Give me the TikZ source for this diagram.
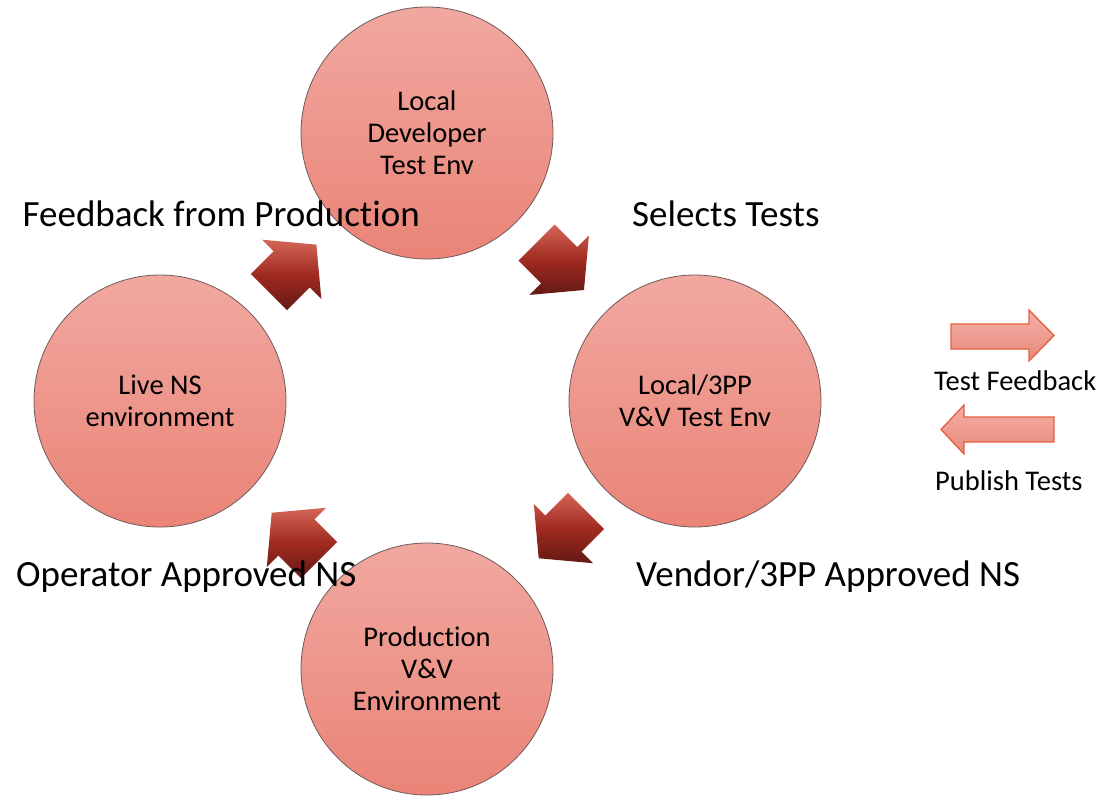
\documentclass[tikz,border=0pt]{standalone}
\usepackage{fontspec}
\setmainfont[Ligatures={NoCommon,NoDiscretionary,NoRare,NoHistoric,NoContextual}]{Carlito}
\usetikzlibrary{calc}
\definecolor{circtop}{RGB}{241,168,160}
\definecolor{circbot}{RGB}{234,132,119}
\definecolor{circline}{RGB}{110,90,90}
\definecolor{arrtop}{RGB}{212,102,86}
\definecolor{arrmid}{RGB}{160,42,32}
\definecolor{arrbot}{RGB}{100,25,20}
\definecolor{legtop}{RGB}{243,175,166}
\definecolor{legbot}{RGB}{233,137,124}
\definecolor{legline}{RGB}{226,96,62}
\tikzset{
  circ/.style={circle, minimum size=252pt, inner sep=0pt, draw=circline, line width=0.8pt,
    top color=circtop, bottom color=circbot, align=center,
    font=\fontsize{28.5}{32}\selectfont},
  blockarrow/.style={top color=arrtop, bottom color=arrbot, middle color=arrmid, draw=none},
  lbl/.style={inner sep=0pt, anchor=base west, font=\fontsize{37}{43}\selectfont},
  leglbl/.style={inner sep=0pt, anchor=base west, font=\fontsize{28.5}{32}\selectfont},
  legarrow/.style={top color=legtop, bottom color=legbot, draw=legline, line width=1.3pt, line join=miter}
}
\newcommand\blockarr[2]{%
  \path[blockarrow] ($(#1)+(#2+90:25.5)$) -- ($(#1)+(#2:32)+(#2+90:25.5)$)
    -- ($(#1)+(#2:32)+(#2+90:42)$) -- ($(#1)+(#2:67)$)
    -- ($(#1)+(#2:32)+(#2-90:42)$) -- ($(#1)+(#2:32)+(#2-90:25.5)$)
    -- ($(#1)+(#2-90:25.5)$) -- cycle;}
\begin{document}
\begin{tikzpicture}[x=1pt,y=-1pt]
\useasboundingbox[fill=white] (0,0) rectangle (1099,796);
% circles
\node[circ] (dev) at (427,133) {Local\\Developer\\Test Env};
\node[circ] (vv) at (695,401) {Local/3PP\\V\&V Test Env};
\node[circ] (prod) at (427,669) {Production\\V\&V\\Environment};
\node[circ] (live) at (160,401) {Live NS\\environment};
% block arrows (back centre, direction)
\coordinate (aNE) at (269,292);
\coordinate (aSE) at (536.6,242.6);
\coordinate (aSW) at (586.1,510.9);
\coordinate (aNW) at (319.1,560.1);
\blockarr{aNE}{315}
\blockarr{aSE}{45}
\blockarr{aSW}{135}
\blockarr{aNW}{225}
% labels
\node[lbl] (lfb) at (22.5,226.7) {Feedback from Production};
\node[lbl] (lsel) at (632,226.7) {Selects Tests};
\node[lbl] (lop) at (16,586.7) {Operator Approved NS};
\node[lbl] (lven) at (636,586.7) {Vendor/3PP Approved NS};
% legend
\path[legarrow] (951,324) -- (1029,324) -- (1029,310) -- (1054,335.5) -- (1029,361) -- (1029,349) -- (951,349) -- cycle;
\path[legarrow] (1054,417) -- (964,417) -- (964,405) -- (941,429.5) -- (964,454) -- (964,442) -- (1054,442) -- cycle;
\node[leglbl] (ltf) at (934,390.7) {Test Feedback};
\node[leglbl] (lpt) at (935,490.7) {Publish Tests};
\end{tikzpicture}
\end{document}
